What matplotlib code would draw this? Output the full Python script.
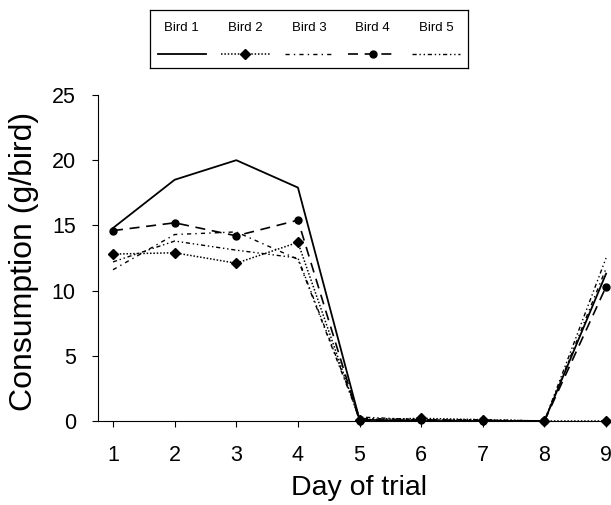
import numpy as np
import matplotlib
matplotlib.use("Agg")
import matplotlib.pyplot as plt

plt.rcParams["font.family"] = ["Liberation Sans", "DejaVu Sans"]

DAYS = [1, 2, 3, 4, 5, 6, 7, 8, 9]

BIRD_1 = [14.8, 18.5, 20.0, 17.9, 0.1, 0.0, 0.0, 0.0, 11.3]
BIRD_2 = [12.8, 12.9, 12.1, 13.7, 0.1, 0.2, 0.1, 0.0, 0.0]
BIRD_3 = [11.6, 14.3, 14.5, 12.4, 0.2, 0.1, 0.0, 0.0, 11.7]
BIRD_4 = [14.6, 15.2, 14.2, 15.4, 0.0, 0.1, 0.0, 0.0, 10.3]
BIRD_5 = [12.2, 13.8, 13.1, 12.5, 0.3, 0.1, 0.1, 0.0, 12.5]

LABELS = ["Bird 1", "Bird 2", "Bird 3", "Bird 4", "Bird 5"]
SERIES = [BIRD_1, BIRD_2, BIRD_3, BIRD_4, BIRD_5]

STYLES = [
    dict(linestyle="-", marker=None, lw=1.3),
    dict(linestyle=(0, (1, 1.2)), marker="D", ms=5.5, lw=1.1),
    dict(linestyle=(0, (3, 3, 1, 3)), marker=None, lw=1.0),
    dict(linestyle=(0, (6, 4)), marker="o", ms=5, lw=1.2),
    dict(linestyle=(0, (3, 2, 1, 2, 1, 2)), marker=None, lw=1.0),
]

W, H = 611, 505
fig = plt.figure(figsize=(W / 100, H / 100), dpi=100)
ax = fig.add_axes([98 / W, 1 - 421 / H, (W - 98) / W, (421 - 95) / H])

for y, st in zip(SERIES, STYLES):
    ax.plot(DAYS, y, color="black", clip_on=False, **st)

ax.set_xlim(0.756, 9.08)
ax.set_ylim(0, 25)
ax.set_xticks(DAYS)
ax.set_yticks([0, 5, 10, 15, 20, 25])
ax.tick_params(labelsize=15.5, length=4, width=0.8, direction="out")
ax.tick_params(axis="x", pad=13)
ax.tick_params(axis="y", pad=12)
ax.spines["top"].set_visible(False)
ax.spines["right"].set_visible(False)
ax.set_xlabel("Day of trial", fontsize=20.5)
ax.xaxis.set_label_coords(0.509, -0.165)
ax.set_ylabel("Consumption (g/bird)", fontsize=23)
ax.yaxis.set_label_coords(-0.115, 0.488)

# legend: labels above line samples, boxed
lax = fig.add_axes([150 / W, 1 - 68 / H, 318 / W, 58 / H])
lax.set_xlim(0, 5)
lax.set_ylim(0, 1)
lax.set_xticks([])
lax.set_yticks([])
for s in lax.spines.values():
    s.set_linewidth(0.9)
for i, (lab, st) in enumerate(zip(LABELS, STYLES)):
    cx = i + 0.5
    lax.text(cx, 0.69, lab, ha="center", va="center", fontsize=9.5)
    line_st = {k: v for k, v in st.items() if k not in ("marker", "ms")}
    lax.plot([cx - 0.38, cx + 0.38], [0.24, 0.24], color="black", **line_st)
    if st["marker"]:
        lax.plot([cx], [0.24], color="black", marker=st["marker"],
                 ms=st["ms"], linestyle="none")

fig.savefig("out.png", dpi=100)
